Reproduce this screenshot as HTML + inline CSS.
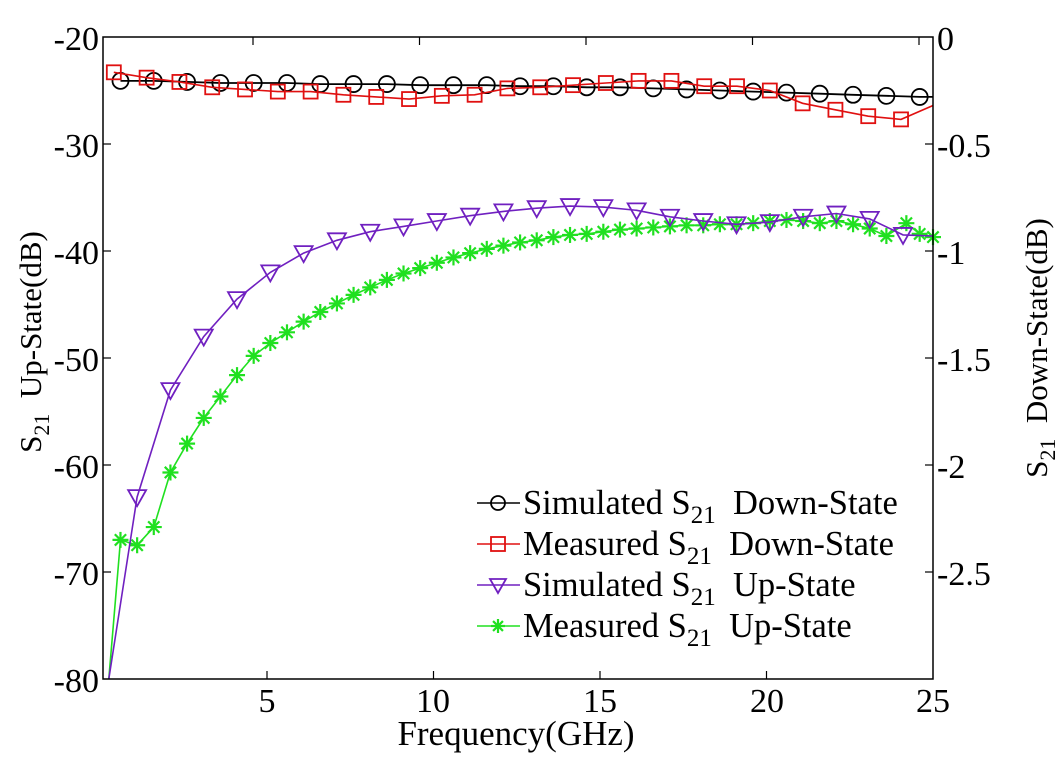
<!DOCTYPE html>
<html><head><meta charset="utf-8"><style>
html,body{margin:0;padding:0;background:#fff;}
svg{display:block;font-family:"Liberation Serif","Times New Roman",serif;}
</style></head><body>
<svg id="s" width="1061" height="762" viewBox="0 0 1061 762" xmlns="http://www.w3.org/2000/svg" font-family="Liberation Serif, serif">
<rect width="1061" height="762" fill="#fff"/>
<g id="plot"></g>
<rect x="103" y="37" width="830" height="642" fill="none" stroke="#000" stroke-width="1.5"/>
<g font-size="34" fill="#000">
<text x="99" y="50" text-anchor="end">-20</text>
<text x="99" y="157" text-anchor="end">-30</text>
<text x="99" y="264" text-anchor="end">-40</text>
<text x="99" y="371" text-anchor="end">-50</text>
<text x="99" y="478" text-anchor="end">-60</text>
<text x="99" y="585" text-anchor="end">-70</text>
<text x="99" y="692" text-anchor="end">-80</text>
<text x="937" y="50">0</text>
<text x="937" y="157">-0.5</text>
<text x="937" y="264">-1</text>
<text x="937" y="371">-1.5</text>
<text x="937" y="478">-2</text>
<text x="937" y="585">-2.5</text>
<text x="267" y="712" text-anchor="middle">5</text>
<text x="433" y="712" text-anchor="middle">10</text>
<text x="600" y="712" text-anchor="middle">15</text>
<text x="767" y="712" text-anchor="middle">20</text>
<text x="933" y="712" text-anchor="middle">25</text>
<text x="516" y="745" text-anchor="middle" font-size="35">Frequency(GHz)</text>
<text transform="translate(41,342) rotate(-90)" text-anchor="middle" font-size="31">S<tspan font-size="22" dy="8">21</tspan><tspan dy="-8">&#160;&#160;Up-State(dB)</tspan></text>
<text transform="translate(1047,348) rotate(-90)" text-anchor="middle" font-size="31">S<tspan font-size="22" dy="8">21</tspan><tspan dy="-8">&#160;&#160;Down-State(dB)</tspan></text>
</g>
<g font-size="34.5" fill="#000">
<line x1="477" y1="503" x2="520" y2="503" stroke="#000" stroke-width="1.5"/><circle cx="498" cy="503" r="7" fill="none" stroke="#000" stroke-width="1.8"/>
<text x="523" y="514">Simulated S<tspan font-size="25" dy="9">21</tspan><tspan dy="-9">&#160;&#160;Down-State</tspan></text>
<line x1="477" y1="544" x2="520" y2="544" stroke="#e01010" stroke-width="1.5"/><rect x="491" y="537" width="14" height="14" fill="none" stroke="#e01010" stroke-width="1.8"/>
<text x="523" y="555">Measured S<tspan font-size="25" dy="9">21</tspan><tspan dy="-9">&#160;&#160;Down-State</tspan></text>
<line x1="477" y1="585" x2="520" y2="585" stroke="#7020c0" stroke-width="1.5"/><path d="M490 579 L506 579 L498 593 Z" fill="none" stroke="#7020c0" stroke-width="1.8"/>
<text x="523" y="596">Simulated S<tspan font-size="25" dy="9">21</tspan><tspan dy="-9">&#160;&#160;Up-State</tspan></text>
<line x1="477" y1="626" x2="520" y2="626" stroke="#20e020" stroke-width="1.5"/><g id="lstar"></g>
<text x="523" y="637">Measured S<tspan font-size="25" dy="9">21</tspan><tspan dy="-9">&#160;&#160;Up-State</tspan></text>
</g>
<script>
(function(){
var NS="http://www.w3.org/2000/svg",g=document.getElementById("plot");
function X(f){return 100.5+f*33.3;}function Y(d){return 37+(-20-d)*10.7;}
function el(n,a,p){var e=document.createElementNS(NS,n);for(var k in a)e.setAttribute(k,a[k]);(p||g).appendChild(e);return e;}
[5,10,15,20].forEach(function(f){el("line",{x1:X(f),y1:679,x2:X(f),y2:671,stroke:"#000","stroke-width":1.2});el("line",{x1:X(f)-14,y1:37,x2:X(f)-14,y2:45,stroke:"#000","stroke-width":1.2});});
el("line",{x1:919,y1:37,x2:919,y2:45,stroke:"#000","stroke-width":1.2});
for(var i=1;i<6;i++){var y=37+i*107;el("line",{x1:103,y1:y,x2:111,y2:y,stroke:"#000","stroke-width":1.2});el("line",{x1:933,y1:y,x2:925,y2:y,stroke:"#000","stroke-width":1.2});}
function line(pts,c,w){el("polyline",{points:pts.map(function(p){return X(p[0]).toFixed(1)+","+Y(p[1]).toFixed(1)}).join(" "),fill:"none",stroke:c,"stroke-width":w||1.6});}
function star(x,y,c,r,p){for(var a=0;a<4;a++){var t=a*Math.PI/4;el("line",{x1:x-r*Math.cos(t),y1:y-r*Math.sin(t),x2:x+r*Math.cos(t),y2:y+r*Math.sin(t),stroke:c,"stroke-width":2.2},p);}}
var sd=[-24.1,-24.1,-24.2,-24.3,-24.3,-24.3,-24.4,-24.4,-24.4,-24.5,-24.5,-24.5,-24.6,-24.6,-24.7,-24.7,-24.8,-24.9,-25,-25.1,-25.2,-25.3,-25.4,-25.5,-25.6];
var sdp=sd.map(function(v,i){return [0.6+i,v]});sdp.push([25,-25.6]);line(sdp,"#000",1.8);
sdp.slice(0,25).forEach(function(p){el("circle",{cx:X(p[0]),cy:Y(p[1]),r:8,fill:"none",stroke:"#000","stroke-width":1.8});});
var md=[-23.3,-23.8,-24.2,-24.7,-24.9,-25.1,-25.1,-25.4,-25.6,-25.8,-25.5,-25.4,-24.8,-24.7,-24.5,-24.3,-24.1,-24.1,-24.6,-24.6,-25,-26.2,-26.8,-27.4,-27.7];
var mdp=md.map(function(v,i){return [0.4+i*0.985,v]});var mpl=mdp.slice();mpl.push([25,-26.4]);line(mpl,"#e01010",1.6);
mdp.forEach(function(p){el("rect",{x:X(p[0])-7,y:Y(p[1])-7,width:14,height:14,fill:"none",stroke:"#e01010","stroke-width":1.8});});
var mu=[[0.25,-80],[0.6,-67],[1.1,-67.5],[1.6,-65.8],[2.1,-60.7],[2.6,-58],[3.1,-55.6],[3.6,-53.6],[4.1,-51.6],[4.6,-49.8],[5.1,-48.6],[5.6,-47.6],[6.1,-46.6],[6.6,-45.7],[7.1,-44.9],[7.6,-44.1],[8.1,-43.4],[8.6,-42.7],[9.1,-42.1],[9.6,-41.6],[10.1,-41.1],[10.6,-40.6],[11.1,-40.2],[11.6,-39.8],[12.1,-39.5],[12.6,-39.2],[13.1,-39],[13.6,-38.7],[14.1,-38.5],[14.6,-38.4],[15.1,-38.2],[15.6,-38],[16.1,-37.9],[16.6,-37.8],[17.1,-37.7],[17.6,-37.6],[18.1,-37.6],[18.6,-37.5],[19.1,-37.5],[19.6,-37.4],[20.1,-37.2],[20.6,-37.1],[21.1,-37.2],[21.6,-37.4],[22.1,-37.2],[22.6,-37.5],[23.1,-37.9],[23.6,-38.6],[24.2,-37.4],[24.6,-38.4],[25,-38.7]];
line(mu,"#20e020",1.6);
mu.slice(1).forEach(function(p){star(X(p[0]),Y(p[1]),"#20e020",8);});
var su=[[0.25,-80],[1.1,-63],[2.1,-53],[3.1,-48],[4.1,-44.5],[5.1,-42],[6.1,-40.2],[7.1,-39],[8.1,-38.2],[9.1,-37.7],[10.1,-37.2],[11.1,-36.7],[12.1,-36.3],[13.1,-36],[14.1,-35.8],[15.1,-35.9],[16.1,-36.2],[17.1,-36.8],[18.1,-37.2],[19.1,-37.5],[20.1,-37.3],[21.1,-36.8],[22.1,-36.5],[23.1,-37],[24.1,-38.5],[25,-38.6]];
line(su,"#7020c0",1.6);
su.slice(1,25).forEach(function(p){var x=X(p[0]),y=Y(p[1]);el("path",{d:"M"+(x-9)+" "+(y-7)+" L"+(x+9)+" "+(y-7)+" L"+x+" "+(y+9)+" Z",fill:"none",stroke:"#7020c0","stroke-width":1.8});});
star(498,626,"#20e020",7,document.getElementById("lstar"));
})();
</script>
</svg>
</body></html>
